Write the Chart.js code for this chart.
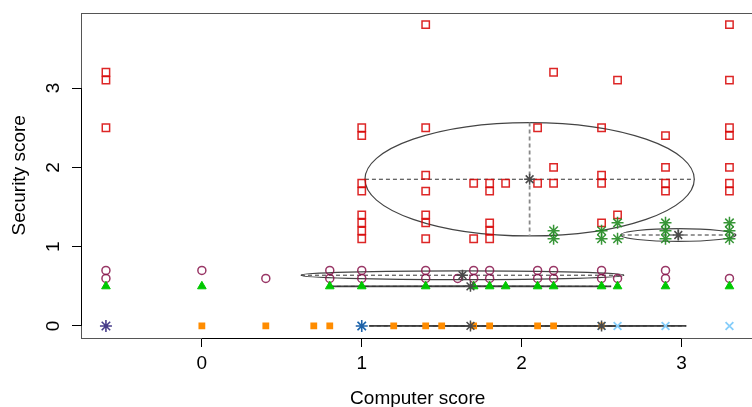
<!DOCTYPE html>
<html>
<head>
<meta charset="utf-8">
<script src="https://cdn.jsdelivr.net/npm/chart.js@4.4.1/dist/chart.umd.min.js"></script>
<style>
html, body { margin: 0; padding: 0; background: #fff; overflow: hidden; }
</style>
</head>
<body>
<canvas id="plot" width="762" height="407"></canvas>
<script>
// tick labels
var xTicks = [0, 1, 2, 3];
var yTicks = [0, 1, 2, 3];

// red open squares
var redX = [-0.6, -0.6, -0.6, 1, 1, 1, 1, 1, 1, 1, 1, 1.4, 1.4, 1.4, 1.4, 1.4, 1.4, 1.4, 1.7, 1.7,
	1.8, 1.8, 1.8, 1.8, 1.8, 1.9, 2.1, 2.1, 2.2, 2.2, 2.2, 2.5, 2.5, 2.5, 2.5, 2.6, 2.6,
	2.9, 2.9, 2.9, 2.9, 3.3, 3.3, 3.3, 3.3, 3.3, 3.3, 3.3];
var redY = [3.2, 3.1, 2.5, 2.5, 2.4, 1.8, 1.7, 1.4, 1.3, 1.2, 1.1, 3.8, 2.5, 1.9, 1.7, 1.4, 1.3, 1.1, 1.8, 1.1,
	1.8, 1.7, 1.3, 1.2, 1.1, 1.8, 2.5, 1.8, 3.2, 2.0, 1.8, 2.5, 1.9, 1.8, 1.3, 3.1, 1.4,
	2.4, 2.0, 1.8, 1.7, 3.8, 3.1, 2.5, 2.4, 2.0, 1.8, 1.7];

// green asterisks
var starX = [2.2, 2.2, 2.5, 2.5, 2.6, 2.6, 2.9, 2.9, 2.9, 3.3, 3.3, 3.3];
var starY = [1.2, 1.1, 1.2, 1.1, 1.3, 1.1, 1.3, 1.2, 1.1, 1.3, 1.2, 1.1];

// purple open circles
var circX = [-0.6, -0.6, 0, 0.4, 0.8, 0.8, 1, 1, 1.4, 1.4, 1.6, 1.7, 1.7, 1.8, 1.8, 2.1, 2.1, 2.2, 2.2, 2.5, 2.5, 2.6, 2.9, 2.9, 3.3];
var circY = [0.7, 0.6, 0.7, 0.6, 0.7, 0.6, 0.7, 0.6, 0.7, 0.6, 0.6, 0.7, 0.6, 0.7, 0.6, 0.7, 0.6, 0.7, 0.6, 0.7, 0.6, 0.6, 0.7, 0.6, 0.6];

// green filled triangles
var triX = [-0.6, 0, 0.8, 1, 1.4, 1.7, 1.8, 1.9, 2.1, 2.2, 2.5, 2.6, 2.9, 3.3];
var triY = [0.5, 0.5, 0.5, 0.5, 0.5, 0.5, 0.5, 0.5, 0.5, 0.5, 0.5, 0.5, 0.5, 0.5];

// orange filled squares
var orangeX = [0, 0.4, 0.7, 0.8, 1.2, 1.4, 1.5, 1.7, 1.8, 2.1, 2.2, 2.5];
var orangeY = [0, 0, 0, 0, 0, 0, 0, 0, 0, 0, 0, 0];

// light blue crosses
var blueX = [1, 2.5, 2.6, 2.9, 3.3];
var blueY = [0, 0, 0, 0, 0];

// dark asterisks
var darkX = [-0.6, 1];
var darkY = [0, 0];

// group ellipses (centre and half-axes)
var ellCX = [2.05, 2.98, 1.63, 1.68, 1.68, 2.5];
var ellCY = [1.85, 1.147, 0.64, 0.5, 0, 0];
var ellRX = [1.03, 0.36, 1.01, 0.88, 0.63, 0.53];
var ellRY = [0.715, 0.08, 0.055, 0, 0, 0];

function pts(xs, ys) {
	var out = [];
	for (var i = 0; i < xs.length; i++) out.push({ x: xs[i], y: ys[i] });
	return out;
}

var FONT = '"Liberation Sans", Arial, Helvetica, sans-serif';

// ellipses, box, axis lines and rotated y labels like base R
var rPlot = {
	id: 'rPlot',
	beforeDatasetsDraw: function(chart) {
		var ctx = chart.ctx, xs = chart.scales.x, ys = chart.scales.y, a = chart.chartArea;
		ctx.save();
		ctx.beginPath();
		ctx.rect(a.left, a.top, a.right - a.left, a.bottom - a.top);
		ctx.clip();
		for (var i = 0; i < ellCX.length; i++) {
			var cx = xs.getPixelForValue(ellCX[i]);
			var cy = ys.getPixelForValue(ellCY[i]);
			var rx = xs.getPixelForValue(ellCX[i] + ellRX[i]) - cx;
			var ry = cy - ys.getPixelForValue(ellCY[i] + ellRY[i]);
			ctx.setLineDash([]);
			ctx.strokeStyle = '#444';
			ctx.lineWidth = ry < 1 ? 1.8 : 1.2;
			ctx.beginPath();
			ctx.ellipse(cx, cy, rx, Math.max(ry, 0.1), 0, 0, 2 * Math.PI);
			ctx.stroke();
			ctx.setLineDash([4, 3]);
			ctx.strokeStyle = '#333';
			ctx.lineWidth = 1;
			ctx.beginPath();
			ctx.moveTo(cx - rx, cy);
			ctx.lineTo(cx + rx, cy);
			ctx.stroke();
			if (ry > 1) {
				ctx.strokeStyle = '#888';
				ctx.lineWidth = 1.8;
				ctx.beginPath();
				ctx.moveTo(cx, cy - ry);
				ctx.lineTo(cx, cy + ry);
				ctx.stroke();
			}
		}
		ctx.restore();
	},
	afterDraw: function(chart) {
		var ctx = chart.ctx, xs = chart.scales.x, ys = chart.scales.y, a = chart.chartArea;
		ctx.save();
		ctx.setLineDash([]);
		ctx.strokeStyle = '#555';
		ctx.lineWidth = 1;
		ctx.strokeRect(Math.round(a.left) + 0.5, Math.round(a.top) + 0.5, a.right - a.left, Math.round(a.bottom - a.top));
		ctx.strokeStyle = '#000';
		ctx.beginPath();
		ctx.moveTo(xs.getPixelForValue(xTicks[0]), Math.round(a.bottom) + 0.5);
		ctx.lineTo(xs.getPixelForValue(xTicks[xTicks.length - 1]), Math.round(a.bottom) + 0.5);
		ctx.moveTo(Math.round(a.left) + 0.5, ys.getPixelForValue(yTicks[0]));
		ctx.lineTo(Math.round(a.left) + 0.5, ys.getPixelForValue(yTicks[yTicks.length - 1]));
		ctx.stroke();
		ctx.fillStyle = '#000';
		ctx.font = '19px ' + FONT;
		ctx.textAlign = 'center';
		ctx.textBaseline = 'middle';
		yTicks.forEach(function(v) {
			ctx.save();
			ctx.translate(54, ys.getPixelForValue(v));
			ctx.rotate(-Math.PI / 2);
			ctx.fillText(String(v), 0, 0);
			ctx.restore();
		});
		ctx.restore();
	}
};

var ctx = document.getElementById('plot');

var chart = new Chart(ctx, {
	type: 'scatter',
	data: {
		datasets: [
			{
				label: 'centroids',
				data: pts(ellCX, ellCY),
				pointStyle: 'star',
				pointRadius: 5.5,
				borderColor: '#4a4a4a',
				borderWidth: 1.5,
				order: 0
			},
			{
				label: 'security',
				data: pts(redX, redY),
				pointStyle: 'rect',
				pointRadius: 5.2,
				borderColor: 'rgba(215, 0, 0, 0.85)',
				backgroundColor: 'rgba(0,0,0,0)',
				borderWidth: 1.5,
				order: 7
			},
			{
				label: 'stars',
				data: pts(starX, starY),
				pointStyle: 'star',
				pointRadius: 6,
				borderColor: 'rgba(34, 139, 34, 0.9)',
				borderWidth: 1.5,
				order: 6
			},
			{
				label: 'circles',
				data: pts(circX, circY),
				pointStyle: 'circle',
				pointRadius: 4,
				borderColor: 'rgba(135, 20, 75, 0.85)',
				backgroundColor: 'rgba(0,0,0,0)',
				borderWidth: 1.5,
				order: 5
			},
			{
				label: 'triangles',
				data: pts(triX, triY),
				pointStyle: 'triangle',
				pointRadius: 5,
				borderColor: '#00c800',
				backgroundColor: '#00c800',
				borderWidth: 1,
				order: 4
			},
			{
				label: 'orange',
				data: pts(orangeX, orangeY),
				pointStyle: 'rect',
				pointRadius: 4.8,
				borderColor: '#ff8c00',
				backgroundColor: '#ff8c00',
				borderWidth: 0,
				order: 3
			},
			{
				label: 'blue',
				data: pts(blueX, blueY),
				pointStyle: 'crossRot',
				pointRadius: 5.5,
				borderColor: '#87cefa',
				borderWidth: 1.8,
				order: 2
			},
			{
				label: 'dark',
				data: pts(darkX, darkY),
				pointStyle: 'star',
				pointRadius: 6,
				borderColor: ['#483d8b', '#1f62a8'],
				borderWidth: 1.6,
				order: 1
			}
		]
	},
	options: {
		responsive: false,
		devicePixelRatio: 1,
		animation: false,
		events: [],
		layout: { padding: { top: 12.6, right: 4, bottom: 0, left: 0 } },
		plugins: {
			legend: { display: false },
			tooltip: { enabled: false }
		},
		scales: {
			x: {
				type: 'linear',
				min: -0.756,
				max: 3.456,
				afterBuildTicks: function(s) { s.ticks = xTicks.map(function(v) { return { value: v }; }); },
				afterFit: function(s) { s.height = 69; },
				grid: { drawOnChartArea: false, drawTicks: true, tickLength: 9, color: '#000', lineWidth: 1 },
				border: { display: false },
				ticks: { color: '#000', font: { family: FONT, size: 19 }, padding: 5, maxRotation: 0, autoSkip: false },
				title: { display: true, text: 'Computer score', color: '#000', font: { family: FONT, size: 19, lineHeight: 0.9 }, padding: 0 }
			},
			y: {
				type: 'linear',
				min: -0.152,
				max: 3.952,
				afterBuildTicks: function(s) { s.ticks = yTicks.map(function(v) { return { value: v }; }); },
				afterFit: function(s) { s.width = 81; },
				grid: { drawOnChartArea: false, drawTicks: true, tickLength: 9, color: '#000', lineWidth: 1 },
				border: { display: false },
				ticks: { display: false },
				title: { display: true, text: 'Security score', color: '#000', font: { family: FONT, size: 19, lineHeight: 1 }, padding: { top: 10.5, bottom: 0 } }
			}
		}
	},
	plugins: [rPlot]
});
</script>
</body>
</html>
